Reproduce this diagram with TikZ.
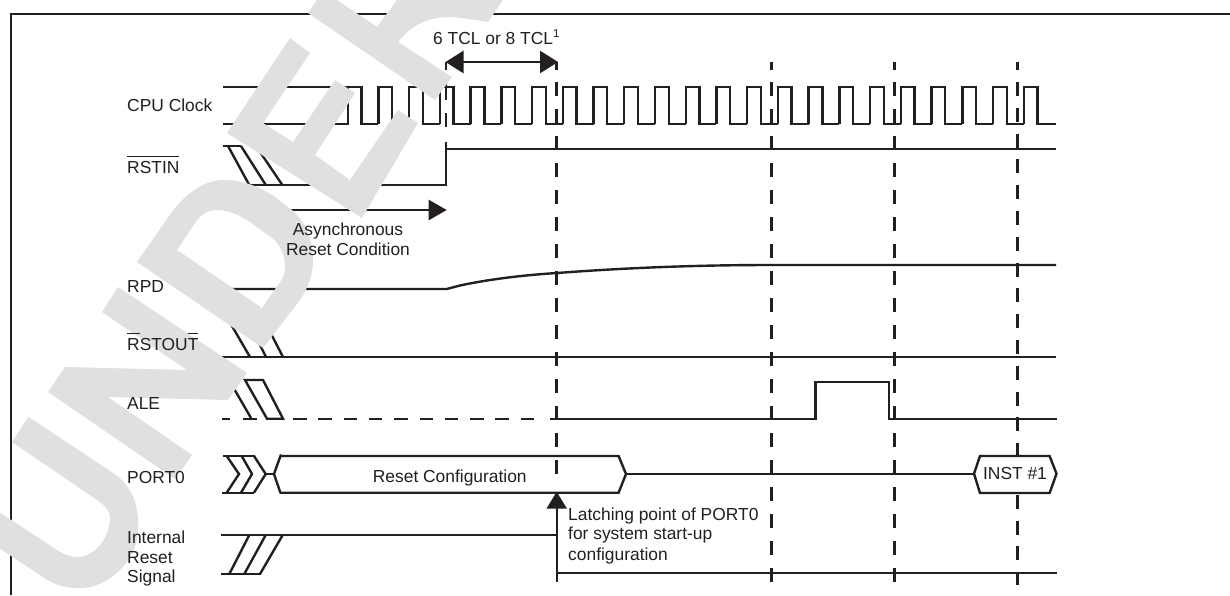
\documentclass[tikz,border=0pt]{standalone}
\usepackage{fontspec}
\setmainfont{Liberation Sans}
\usetikzlibrary{arrows.meta}
\definecolor{ink}{HTML}{231F20}
\definecolor{wm}{HTML}{DFE0E2}
\newcommand\ovtxt[1]{\setbox0=\hbox{#1}\rlap{\rule[15.6pt]{\wd0}{1.4pt}}\box0\relax}
\tikzset{
  sig/.style={draw=ink,line width=2.4pt,line join=miter},
  framel/.style={draw=ink,line width=2.3pt},
  vdash/.style={draw=ink,line width=2.6pt,dash pattern=on 13.5pt off 13.5pt},
  vdashb/.style={draw=ink,line width=2.6pt,dash pattern=on 14pt off 11.8pt},
  aledash/.style={draw=ink,line width=2.4pt,dash pattern=on 13.5pt off 11.8pt},
  lab/.style={inner sep=0pt,anchor=base west,text=ink,font=\fontsize{17.4}{20}\selectfont},
  labc/.style={inner sep=0pt,anchor=base,text=ink,font=\fontsize{17.4}{20}\selectfont},
  wmark/.style={fill=wm,draw=none,even odd rule},
  bigarrow/.style={draw=ink,line width=2.6pt},
}
\begin{document}
\begin{tikzpicture}[x=1pt,y=-1pt]
\useasboundingbox (0,0) rectangle (1230,595);
\fill[white] (0,0) rectangle (1230,595);
% frame
\draw[framel] (9.5,13.7) -- (1230,13.7);
\draw[framel] (11,13.7) -- (11,595);
% vertical dashed time marks
\foreach \xx in {556.7,771.7,894.7}{
  \draw[vdash] (\xx,61.7) -- (\xx,70);
}
\draw[vdash] (556.7,82) -- (556.7,475);
\draw[vdash] (771.7,82) -- (771.7,582);
\draw[vdash] (894.7,82) -- (894.7,582);
\draw[vdash] (1017.7,61.7) -- (1017.7,70);
\draw[vdashb] (1017.7,82) -- (1017.7,585);
\draw[sig] (446,61.7) -- (446,70) (446,83) -- (446,100) (446,113) -- (446,127);
% CPU clock
\draw[sig] (223,87) -- (361.4,87) -- (361.4,124);
\draw[sig] (223,124) -- (347.7,124) -- (347.7,87);
\foreach \k in {0,...,22}{
  \pgfmathsetmacro\rr{347.7+30.73*\k}
  \pgfmathsetmacro\ff{\rr+13.7}
  \pgfmathsetmacro\nn{ifthenelse(\k==22,1055.7,\rr+30.73)}
  \draw[sig] (\rr,124) -- (\rr,87) -- (\ff,87) -- (\ff,124) -- (\nn,124);
}
% RSTIN
\draw[sig] (223,146) -- (241,146);
\draw[sig] (228,146) -- (249,184.5);
\draw[sig] (241,146) -- (265.5,184.5);
\draw[sig] (256,146) -- (282,184.5);
\draw[sig] (249,185) -- (446,185) -- (446,149) -- (1056,149);
\draw[sig] (446,142) -- (446,150);
% async arrow
\coordinate (asyncA) at (270,210);
\coordinate (asyncB) at (446.7,210);
\draw[bigarrow,-{Triangle[length=18pt,width=20pt]}] (asyncA) -- (asyncB);
% six tcl arrow
\coordinate (tclA) at (445.5,62);
\coordinate (tclB) at (558,62);
\draw[bigarrow,{Triangle[length=18pt,width=22pt]}-{Triangle[length=18pt,width=22pt]}] (tclA) -- (tclB);
% RPD
\draw[sig] (222,289) -- (446.7,289) -- (460,285.5) .. controls (490,279) and (525,275) .. (557,273)
  .. controls (630,267.5) and (700,265) .. (772,265) -- (1056,265);
% RSTOUT
\draw[sig] (221,357) -- (1056,357);
\draw[sig] (228.5,320) -- (250,357);
\draw[sig] (247.5,320) -- (266,357);
\draw[sig] (264,320) -- (283,357);
% ALE
\draw[sig] (222,418.7) -- (230,418.7);
\draw[sig] (243,418.7) -- (257,418.7);
\draw[sig] (229,380) -- (251,418);
\draw[sig] (245,380) -- (263,380) -- (283,418.7) -- (267,418.7) -- cycle;
\draw[aledash] (293,418.7) -- (536,418.7);
\draw[sig] (550,418.7) -- (815.5,418.7) -- (815.5,381.7) -- (889,381.7) -- (889,418.7) -- (1056.5,418.7);
% PORT0
\draw[sig] (223,456) -- (255,456) (222,492.7) -- (254,492.7);
\draw[sig] (226.7,456) -- (239,474) -- (226.7,492.7);
\draw[sig] (241.7,456) -- (252,474) -- (241,492.7);
\draw[sig] (254,456) -- (265.7,474) -- (254,492.7);
\draw[sig] (265.7,474) -- (274,474);
\draw[sig] (280.5,493) -- (274,474) -- (281,454.5);
\draw[sig] (280,456) -- (618.6,456) -- (626,474) -- (618.6,492.7) -- (280,492.7);
\draw[sig] (626,473.7) -- (974,473.7);
\draw[sig,fill=white] (974,473.7) -- (980,456) -- (1049.6,456) -- (1056.5,473.7) -- (1049.6,493) -- (980,493) -- cycle;
% Internal reset
\draw[sig] (221,535) -- (557,535);
\draw[sig] (282.7,535) -- (260,574);
\draw[sig] (265.7,535) -- (244.3,574);
\draw[sig] (249.3,535) -- (229.3,574);
\draw[sig] (221,574) -- (261,574);
\draw[sig] (557,573) -- (1056.5,573);
\coordinate (latchA) at (556.7,582);
\coordinate (latchB) at (556.7,491.7);
\draw[sig,-{Triangle[length=17pt,width=20pt]}] (latchA) -- (latchB);
% watermark letters
\fill[wmark] (28.3,416.7) -- (113,473) .. controls (135,488) and (141,510) .. (137,540)
  .. controls (130,570) and (100,590) .. (77,588) .. controls (62,588) and (52,583) .. (43,577)
  -- (-1,548) -- (-1,512) -- (57,550) .. controls (63,554) and (70,557) .. (77,557)
  .. controls (95,557) and (110,538) .. (110,517) .. controls (110,510) and (104,505) .. (97,500)
  -- (12,442) -- cycle;
\fill[wmark] (48,392) -- (65,367) -- (187,370) -- (102,312) -- (118,287) -- (247,373) -- (228,400)
  -- (108,397) -- (192,455) -- (175,479) -- cycle;
\fill[wmark] (137,262) -- (172,212) .. controls (185,194) and (205,180) .. (223,180)
  .. controls (245,180) and (262,188) .. (275,197) -- (292,210) .. controls (306,222) and (313,242) .. (313,260)
  .. controls (313,275) and (308,288) .. (300,300) -- (263,348) -- cycle
  (177,250) -- (197,220) .. controls (203,213) and (210,210) .. (217,210)
  .. controls (228,210) and (240,215) .. (250,222) -- (272,238) .. controls (280,244) and (285,255) .. (285,267)
  .. controls (285,275) and (282,280) .. (278,285) -- (262,308) -- cycle;
\fill[wmark] (227,133) -- (290,38) -- (310,53) -- (263,123) -- (293,142) -- (335,80) -- (355,93)
  -- (315,155) -- (350,180) -- (398,110) -- (418,123) -- (362,218) -- cycle;
\fill[wmark] (308,13) -- (317,0) -- (337,0) -- (377,27) -- (397,0) -- (503,0) -- (488,22)
  .. controls (475,20) and (465,18) .. (450,17) .. controls (425,17) and (410,27) .. (398,42)
  -- (452,77) -- (435,100) -- cycle;
% labels
\node[lab] (cpu) at (127,111) {CPU Clock};
\node[lab] (rstin) at (127,173) {\ovtxt{RSTIN}};
\node[lab] (rpd) at (127,292.7) {RPD};
\node[lab] (rstout) at (127,350) {\ovtxt{R}STOU\ovtxt{T}};
\node[lab] (ale) at (127,409) {ALE};
\node[lab] (port) at (127,483) {PORT0};
\node[lab] (int1) at (127,543.3) {Internal};
\node[lab] (int2) at (127,563) {Reset};
\node[lab] (int3) at (127,582.7) {Signal};
\node[labc] (asy1) at (348,235) {Asynchronous};
\node[labc] (asy2) at (348,255) {Reset Condition};
\node[lab] (tcl) at (433,44) {6 TCL or 8 TCL\raisebox{7pt}{\fontsize{11.5}{12}\selectfont 1}};
\node[lab] (rcfg) at (372.7,482.7) {Reset Configuration};
\node[labc] (inst) at (1015,479.7) {INST \#1};
\node[lab] (l1) at (568,520) {Latching point of PORT0};
\node[lab] (l2) at (568,539.5) {for system start-up};
\node[lab] (l3) at (568,560) {configuration};
\end{tikzpicture}
\end{document}
